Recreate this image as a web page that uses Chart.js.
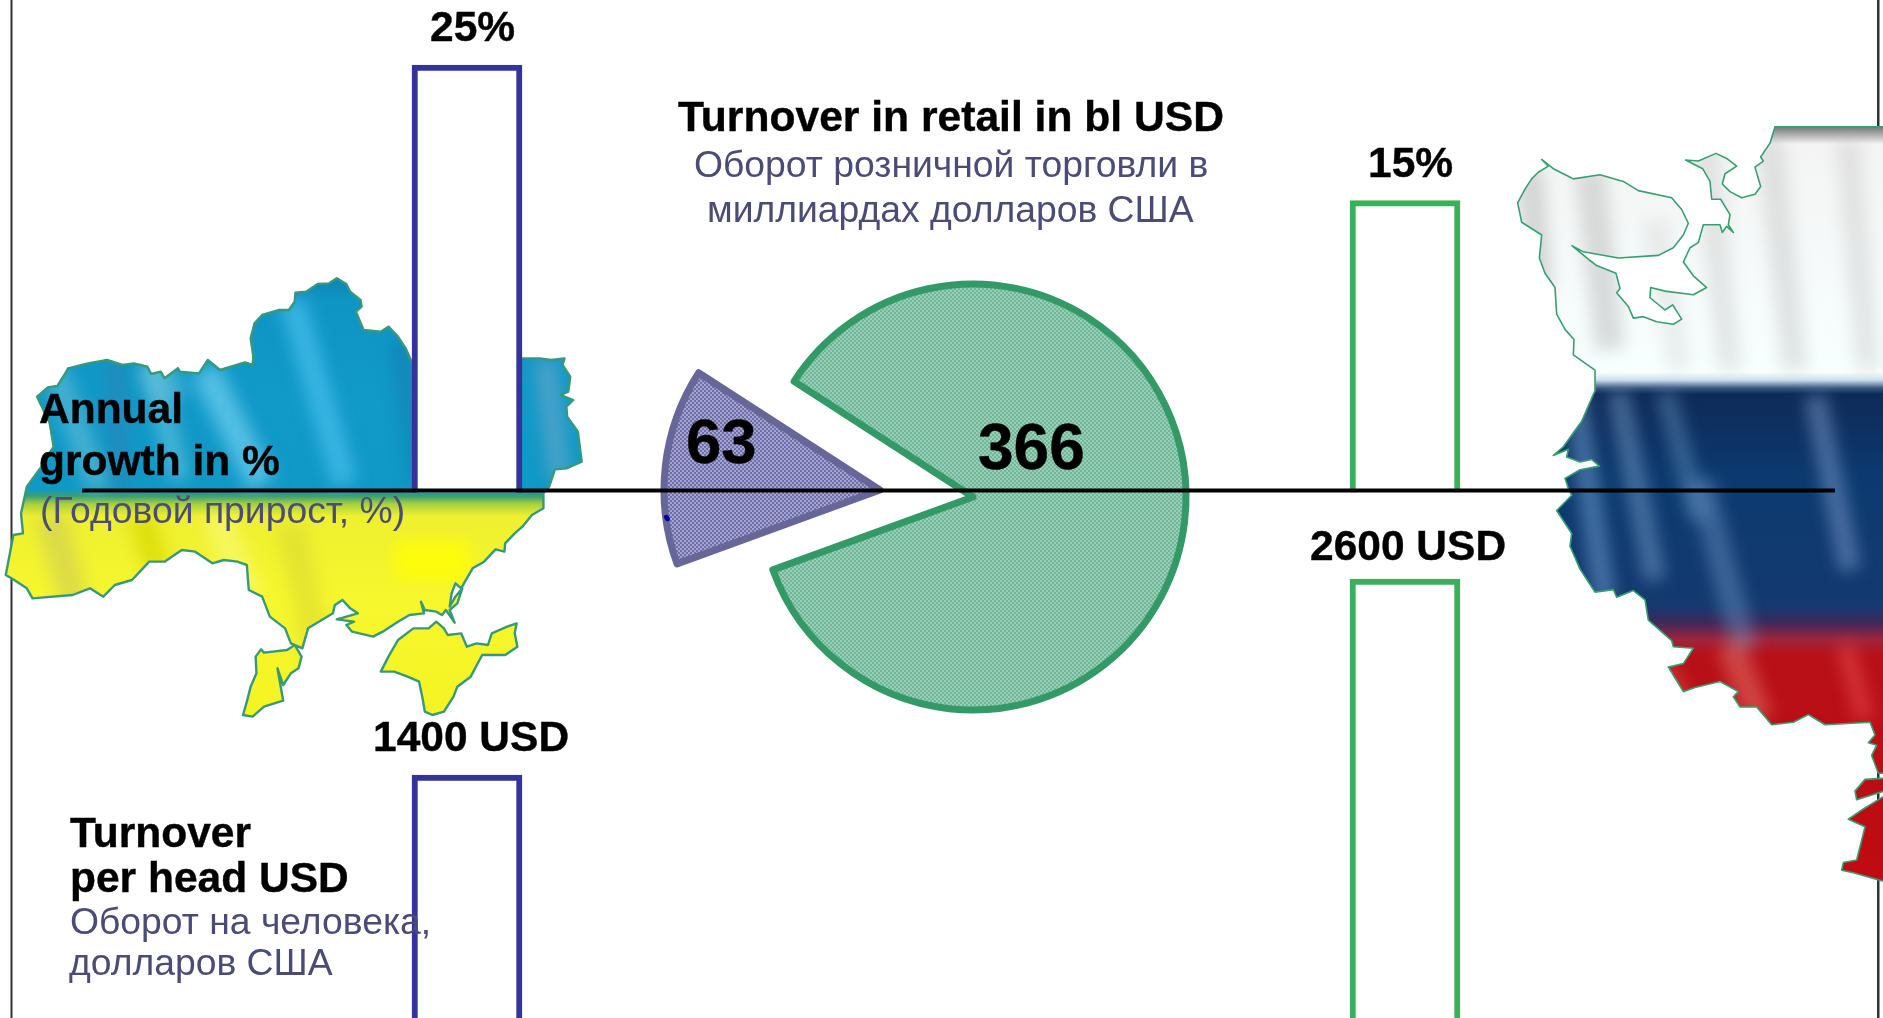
<!DOCTYPE html>
<html><head><meta charset="utf-8">
<style>
html,body{margin:0;padding:0;background:#fff;width:1883px;height:1018px;overflow:hidden}
canvas{position:absolute;top:0;left:0}
#bars{left:-2px}
.t{position:absolute;white-space:nowrap;line-height:0;font-family:"Liberation Sans",Arial,sans-serif}
.b{font-weight:700;color:#000;-webkit-text-stroke:.4px #000}
.s{font-weight:400;color:#4b4b78}
</style></head><body>
<canvas id="bars" width="1885" height="1018"></canvas>
<canvas id="pieMain" width="1883" height="1018"></canvas>
<canvas id="pieSlice" width="1883" height="1018"></canvas>
<div id="texts"></div>
<script src="https://cdn.jsdelivr.net/npm/chart.js@4"></script>
<script>
// ---- data ----
const categories = ['Ukraine', 'Russia'];
const growthPercent = [25, 15];
const turnoverPerHeadUSD = [1400, 2600];
const retailLabels = ['Ukraine', 'Russia'];
const retailBlnUSD = [63, 366];
const growthLabels = ['25%', '15%'];
const perHeadLabels = ['1400 USD', '2600 USD'];

// ---- text ----
const boldTexts = [
  [growthLabels[0], 430, 42, 42.5], [growthLabels[1], 1368, 178, 42.5],
  ['Turnover in retail in bl USD', 678, 131, 42.6],
  ['Annual', 39, 424, 42.5], ['growth in %', 39, 476, 42.5],
  [perHeadLabels[0], 373, 752, 42.5], [perHeadLabels[1], 1310, 561, 42.5],
  ['Turnover', 70, 848, 42.5], ['per head USD', 70, 893, 42.5],
  [String(retailBlnUSD[0]), 686, 463, 63.5], [String(retailBlnUSD[1]), 978, 469, 64]
];
const subTexts = [
  ['Оборот розничной торговли в', 694, 177, 37.3],
  ['миллиардах долларов США', 707, 222, 37.3],
  ['(Годовой прирост, %)', 40, 522.5, 37.3],
  ['Оборот на человека,', 70, 934, 37.3],
  ['долларов США', 69, 975, 37.3]
];
function addTexts(list, cls) {
  for (const [txt, x, base, fs] of list) {
    const d = document.createElement('div');
    d.className = 't ' + cls;
    d.textContent = txt;
    d.style.left = x + 'px';
    d.style.top = (base - 0.3465 * fs) + 'px';
    d.style.fontSize = fs + 'px';
    document.getElementById('texts').appendChild(d);
  }
}
addTexts(boldTexts, 'b');
addTexts(subTexts, 's');

// ---- decorative map outlines (illustration, not data) ----
const uaMain = [[97,410],[125,382],[150,378],[168,345],[178,325],[230,310],[280,300],[320,315],[350,310],[385,320],[395,342],[420,335],[430,355],[465,325],[470,335],[520,340],[543,300],[575,330],[610,318],[640,307],[660,315],[662,290],[655,235],[665,190],[685,165],[730,150],[755,150],[770,125],[772,98],[800,95],[830,72],[860,70],[880,55],[905,72],[915,95],[942,120],[945,140],[930,155],[950,210],[995,215],[1015,200],[1040,230],[1060,265],[1078,312],[1368,295],[1410,295],[1440,300],[1475,295],[1470,315],[1490,350],[1485,395],[1465,405],[1498,420],[1480,440],[1482,470],[1510,515],[1515,560],[1520,605],[1480,625],[1450,628],[1435,680],[1420,700],[1420,745],[1390,765],[1365,800],[1345,820],[1320,850],[1318,875],[1295,868],[1265,905],[1235,925],[1215,965],[1205,985],[1190,970],[1180,1000],[1175,1040],[1190,1010],[1208,985],[1195,1030],[1175,1050],[1188,1088],[1165,1050],[1155,1065],[1140,1055],[1110,1050],[1100,1025],[1108,1060],[1070,1065],[1040,1085],[1000,1115],[975,1130],[920,1115],[905,1095],[925,1085],[880,1078],[935,1060],[915,1045],[895,1020],[875,1035],[870,1060],[805,1105],[790,1165],[760,1150],[745,1105],[705,1070],[685,1010],[650,990],[645,915],[620,905],[585,900],[555,910],[510,875],[475,870],[430,905],[390,905],[345,960],[300,975],[270,1010],[235,985],[190,1005],[85,1015],[70,985],[30,955],[15,945],[35,825],[60,820],[55,760],[70,680],[105,625],[140,560],[130,490]];
const uaCrimea = [[1080,1105],[1040,1140],[1015,1190],[995,1235],[1030,1235],[1065,1250],[1095,1265],[1105,1320],[1110,1355],[1130,1365],[1160,1355],[1185,1310],[1195,1280],[1230,1250],[1260,1185],[1320,1185],[1352,1160],[1345,1120],[1350,1090],[1325,1100],[1285,1120],[1275,1155],[1245,1150],[1220,1160],[1205,1120],[1170,1125],[1160,1105],[1140,1085],[1120,1105]];
const uaWest = [[750,1170],[690,1178],[682,1168],[668,1190],[670,1240],[655,1280],[645,1325],[635,1365],[660,1370],[690,1340],[740,1322],[725,1225],[740,1275],[760,1240],[780,1225],[788,1190],[770,1155]];
const ruMain = [[825,33],[810,65],[782,92],[790,100],[765,112],[782,150],[765,165],[725,172],[690,160],[667,145],[675,125],[710,110],[680,95],[648,85],[595,100],[557,98],[608,115],[630,140],[635,175],[662,175],[690,205],[685,225],[700,240],[680,228],[667,240],[660,225],[610,225],[595,260],[570,270],[550,298],[580,325],[620,348],[580,362],[495,355],[452,348],[450,368],[495,392],[518,382],[545,410],[520,420],[470,415],[430,405],[400,408],[385,385],[350,358],[360,350],[348,320],[290,305],[270,295],[216,266],[250,278],[355,290],[475,285],[520,270],[550,245],[565,222],[545,195],[515,172],[415,158],[370,140],[300,127],[220,135],[205,130],[190,125],[160,115],[125,97],[145,110],[115,122],[95,135],[75,155],[53,182],[65,220],[125,245],[118,290],[135,320],[165,348],[170,400],[195,430],[222,450],[220,480],[285,510],[285,550],[245,610],[190,660],[160,677],[205,665],[200,680],[240,690],[275,685],[298,698],[240,705],[195,722],[205,742],[215,755],[170,785],[215,830],[210,855],[240,900],[285,945],[340,940],[350,955],[400,942],[435,960],[445,1000],[515,1040],[520,1052],[580,1055],[550,1085],[505,1092],[550,1140],[585,1132],[660,1120],[715,1140],[700,1150],[720,1170],[770,1170],[815,1205],[880,1200],[925,1185],[975,1205],[1110,1200],[1125,1225],[1105,1240],[1130,1245],[1115,1265],[1135,1300],[1152,1300],[1152,33]];
const ruIsle1 = [[1152,1310],[1095,1312],[1065,1335],[1070,1352],[1152,1335]];
const ruIsle2 = [[1152,1345],[1090,1370],[1045,1390],[1095,1405],[1070,1470],[1030,1475],[1025,1490],[1060,1495],[1152,1512]];

const uaTx = p => [p[0] / 2.613, 260 + p[1] / 3];
const ruTx = p => [1500 + p[0] / 3, 110 + p[1] / 1.96];

function tracePolys(ctx, polys) {
  ctx.beginPath();
  for (const poly of polys) {
    poly.forEach((p, i) => i ? ctx.lineTo(p[0], p[1]) : ctx.moveTo(p[0], p[1]));
    ctx.closePath();
  }
}
function drawMap(ctx, polys, stops, y0, y1, streaks, edge, lw, blur) {
  ctx.save();
  tracePolys(ctx, polys);
  ctx.save();
  ctx.clip();
  const g = ctx.createLinearGradient(0, y0, 0, y1);
  stops.forEach(s => g.addColorStop((s[0] - y0) / (y1 - y0), s[1]));
  ctx.fillStyle = g;
  ctx.fillRect(0, y0, 1890, y1 - y0);
  ctx.filter = 'blur(' + blur + 'px)';
  for (const [xa, ya, xb, yb, w, col] of streaks) {
    ctx.strokeStyle = col; ctx.lineWidth = w; ctx.lineCap = 'butt';
    ctx.beginPath(); ctx.moveTo(xa, ya); ctx.lineTo(xb, yb); ctx.stroke();
  }
  ctx.filter = 'none';
  ctx.restore();
  tracePolys(ctx, polys);
  ctx.strokeStyle = edge; ctx.lineWidth = lw; ctx.lineJoin = 'round';
  ctx.stroke();
  ctx.restore();
}

const uaPolys = [uaMain, uaCrimea, uaWest].map(a => a.map(uaTx));
const ruPolys = [ruMain, ruIsle1, ruIsle2].map(a => a.map(ruTx));
const uaStops = [[270,'#0b7fb0'],[300,'#0f95c4'],[400,'#1199c8'],[489,'#1098c6'],[496,'#3a9e74'],[504,'#a8d040'],[516,'#eef030'],[600,'#f7f72e'],[720,'#f5f322']];
const uaStreaks = [
  [55,370,100,490,24,'rgba(90,185,215,.7)'],[115,360,120,488,14,'rgba(60,120,170,.5)'],
  [150,360,180,480,20,'rgba(90,190,220,.75)'],[205,370,262,484,30,'rgba(100,200,235,.8)'],
  [292,300,345,484,26,'rgba(70,190,235,.75)'],[150,365,175,400,34,'rgba(120,200,220,.45)'],
  [400,340,420,480,20,'rgba(20,120,170,.5)'],[545,360,560,480,22,'rgba(120,170,200,.55)'],
  [50,515,80,620,30,'rgba(200,200,90,.55)'],[140,515,165,590,26,'rgba(215,215,0,.7)'],
  [215,515,250,600,30,'rgba(250,250,120,.6)'],[290,525,320,660,28,'rgba(215,215,50,.55)'],
  [395,560,470,560,40,'rgba(255,255,0,.75)']
];
const ruStops = [[127,'#777'],[134,'#aaa'],[144,'#f4f4f4'],[372,'#f8ffff'],[380,'#cfe0ee'],[388,'#3a5a80'],[394,'#0f2a58'],[480,'#0c3a70'],[605,'#143a70'],[622,'#3a2a5c'],[640,'#a0243a'],[655,'#b81018'],[900,'#c00a10']];
const ruStreaks = [
  [1530,170,1540,290,26,'rgba(170,170,170,.45)'],[1590,170,1610,350,30,'rgba(170,170,170,.4)'],
  [1705,140,1730,370,24,'rgba(180,180,180,.3)'],[1770,140,1795,370,26,'rgba(175,175,175,.32)'],
  [1848,140,1868,370,24,'rgba(180,180,180,.3)'],[1655,220,1680,370,24,'rgba(190,190,190,.25)'],
  [1575,392,1605,600,22,'rgba(120,165,215,.5)'],[1618,392,1655,580,22,'rgba(130,170,210,.45)'],
  [1665,392,1700,520,20,'rgba(110,160,200,.42)'],[1700,480,1745,650,26,'rgba(110,150,200,.45)'],
  [1815,396,1850,570,22,'rgba(130,160,210,.5)'],[1730,645,1760,720,28,'rgba(230,120,110,.5)'],
  [1845,645,1865,720,18,'rgba(245,100,100,.42)'],[1660,665,1690,720,24,'rgba(230,120,110,.35)']
];

const mapsPlugin = {
  id: 'maps',
  beforeDatasetsDraw(chart) {
    const ctx = chart.ctx;
    ctx.save();
    ctx.translate(2, 0); // canvas sits 2px left of the page
    ctx.fillStyle = '#333';
    ctx.fillRect(10.5, 0, 2, 1018);
    ctx.fillRect(1877, 0, 2.5, 1018);
    drawMap(ctx, uaPolys, uaStops, 270, 720, uaStreaks, '#36997a', 2.4, 8);
    drawMap(ctx, ruPolys, ruStops, 127, 900, ruStreaks, '#36a070', 1.6, 8);
    ctx.restore();
  }
};

// ---- bars ----
const growthBarFloor = -6.5;
const perHeadBarFloor = -300;
const barBorders = ['#333399', '#39b15a'];
new Chart(document.getElementById('bars'), {
  type: 'bar',
  plugins: [mapsPlugin],
  data: {
    labels: categories,
    datasets: [
      { label: 'Annual growth, %', yAxisID: 'y', data: growthPercent.map(v => [growthBarFloor, v]), borderSkipped: 'start' },
      { label: 'Turnover per head, USD', yAxisID: 'yHead', data: turnoverPerHeadUSD.map(v => [perHeadBarFloor, v]), borderSkipped: false }
    ].map(d => Object.assign(d, { backgroundColor: '#fff', borderColor: barBorders, borderWidth: 6, grouped: false, barThickness: 110 }))
  },
  options: {
    responsive: false, animation: false,
    layout: { padding: { left: 0, right: 9, top: 0, bottom: 0 } },
    plugins: { legend: { display: false }, tooltip: { enabled: false } },
    scales: {
      x: { display: false },
      y: { display: false, min: -45.23, max: 29.79 },
      yHead: { display: false, min: -88, max: 6145 }
    }
  }
});

// ---- pie: two exploded slices ----
function dither(a, b) {
  const c = document.createElement('canvas'); c.width = c.height = 4;
  const x = c.getContext('2d');
  x.fillStyle = a; x.fillRect(0, 0, 4, 4);
  x.fillStyle = b; x.fillRect(0, 0, 2, 2); x.fillRect(2, 2, 2, 2);
  return x.createPattern(c, 'repeat');
}
const greenFill = dither('#6cb898', '#9ccdb6');
const blueFill = dither('#6e6eaa', '#a4a4cf');

const axisPlugin = {
  id: 'axisLine',
  afterDraw(chart) {
    const ctx = chart.ctx;
    ctx.save();
    ctx.fillStyle = '#000';
    ctx.fillRect(82, 488.5, 1753, 4);
    ctx.fillStyle = '#000099';
    ctx.beginPath(); ctx.ellipse(667, 518, 2.5, 3.5, -0.6, 0, Math.PI * 2); ctx.fill();
    ctx.restore();
  }
};
function pieOptions(pad) {
  return {
    responsive: false, animation: false, rotation: 250,
    layout: { padding: pad },
    plugins: { legend: { display: false }, tooltip: { enabled: false } }
  };
}
new Chart(document.getElementById('pieMain'), {
  type: 'pie',
  data: { labels: retailLabels, datasets: [{
    data: retailBlnUSD, radius: 213,
    backgroundColor: ['rgba(0,0,0,0)', greenFill],
    borderColor: ['rgba(0,0,0,0)', '#339966'], borderWidth: [0, 7], borderJoinStyle: 'round'
  }] },
  options: pieOptions({ left: 63, bottom: 24 })
});
new Chart(document.getElementById('pieSlice'), {
  type: 'pie',
  plugins: [axisPlugin],
  data: { labels: retailLabels, datasets: [{
    data: retailBlnUSD, radius: 216,
    backgroundColor: [blueFill, 'rgba(0,0,0,0)'],
    borderColor: ['#666699', 'rgba(0,0,0,0)'], borderWidth: [7, 0], borderJoinStyle: 'round'
  }] },
  options: pieOptions({ right: 123, bottom: 38 })
});
</script>
</body></html>
